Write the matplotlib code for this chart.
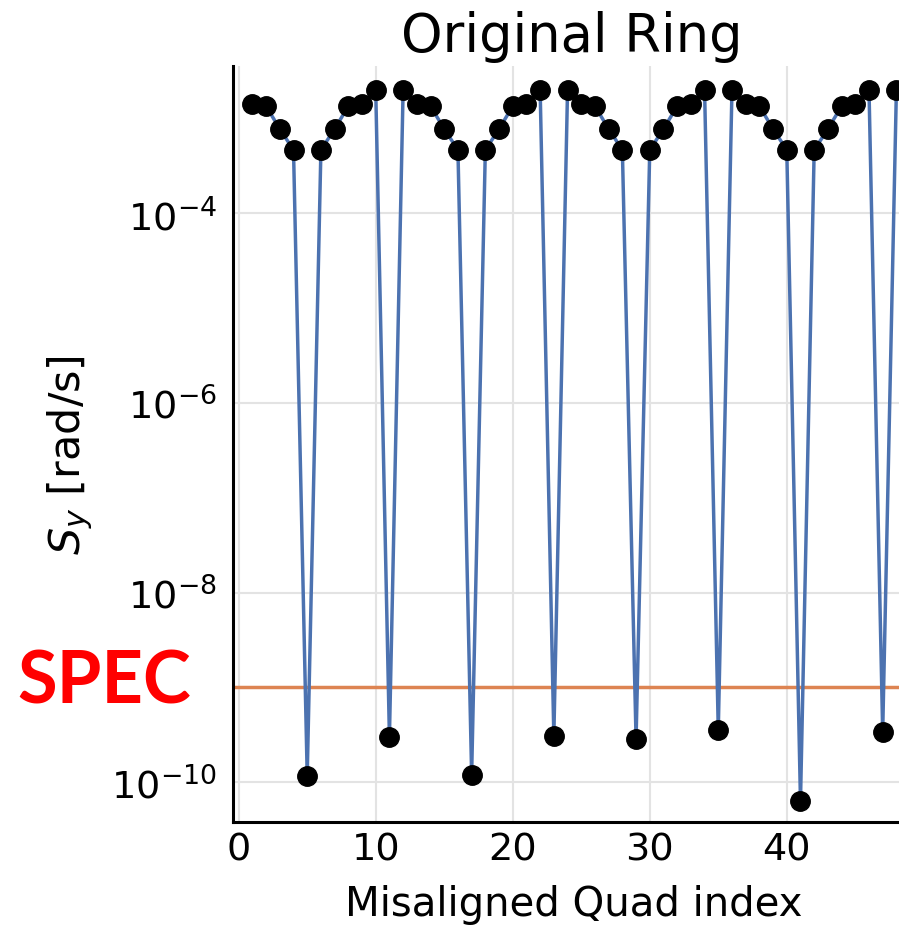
import matplotlib
matplotlib.use("Agg")
import matplotlib.pyplot as plt
import numpy as np

# data
quad_index = np.arange(1, 49)
sy = [
    1.42e-3, 1.35e-3, 7.75e-4, 4.66e-4, 1.17e-10, 4.66e-4, 7.75e-4, 1.35e-3, 1.42e-3, 2.01e-3, 2.99e-10, 2.01e-3,
    1.42e-3, 1.35e-3, 7.75e-4, 4.66e-4, 1.20e-10, 4.66e-4, 7.75e-4, 1.35e-3, 1.42e-3, 2.01e-3, 3.08e-10, 2.01e-3,
    1.42e-3, 1.35e-3, 7.75e-4, 4.66e-4, 2.84e-10, 4.66e-4, 7.75e-4, 1.35e-3, 1.42e-3, 2.01e-3, 3.57e-10, 2.01e-3,
    1.42e-3, 1.35e-3, 7.75e-4, 4.66e-4, 6.30e-11, 4.66e-4, 7.75e-4, 1.35e-3, 1.42e-3, 2.01e-3, 3.38e-10, 2.01e-3,
]
spec = 1e-9
xticks = [0, 10, 20, 30, 40]
yticks = [1e-10, 1e-8, 1e-6, 1e-4]

BLUE, ORANGE = "#4C72B0", "#DD8452"
W, H = 899, 929

fig = plt.figure(figsize=(W / 100, H / 100), dpi=100)
ax = fig.add_axes([233 / W, 1 - 823 / H, (W - 233) / W, (823 - 67) / H])

ax.axhline(spec, color=ORANGE, lw=2.5, zorder=2)
ax.plot(quad_index, sy, color=BLUE, lw=2.5, zorder=3)
ax.plot(quad_index, sy, "o", color="black", ms=14, zorder=4)

ax.set_yscale("log")
ax.set_xlim(-0.416, 48.19)
ax.set_ylim(3.8e-11, 3.58e-3)
ax.set_xticks(xticks)
ax.set_yticks(yticks)
ax.minorticks_off()
ax.grid(True, color="#e3e3e3", lw=1.5)
ax.set_axisbelow(True)

for s in ("top", "right"):
    ax.spines[s].set_visible(False)
for s in ("left", "bottom"):
    ax.spines[s].set_linewidth(2.2)
ax.tick_params(axis="x", length=0, pad=7, labelsize=27.5)
ax.tick_params(axis="y", length=0, pad=11.5, labelsize=27.5)

fig.text(572 / W, 1 - 52 / H, "Original Ring", ha="center", va="baseline", fontsize=38)
fig.text(574 / W, 1 - 905 / H, "Misaligned Quad index", ha="center", va="center", fontsize=29)
fig.text(70 / W, 1 - 455 / H, "$S_y$ [rad/s]", ha="center", va="center", rotation=90, fontsize=31)
fig.text(104 / W, 1 - 683 / H, "SPEC", ha="center", va="center", fontsize=52,
         color="#FF0000", fontweight="bold", family="Lato")

fig.savefig("out.png", dpi=100)
